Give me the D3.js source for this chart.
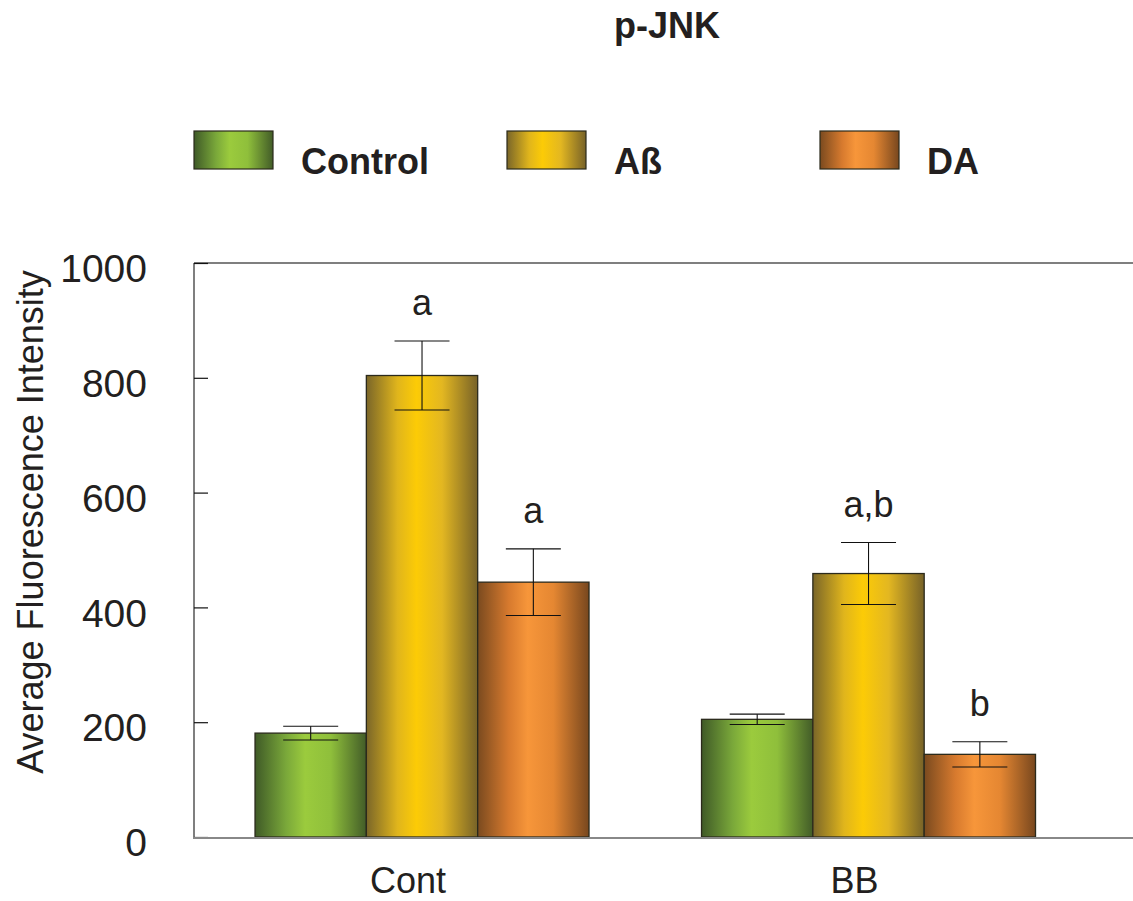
<!DOCTYPE html>
<html>
<head>
<meta charset="utf-8">
<script src="https://cdn.jsdelivr.net/npm/d3@7"></script>
<style>
  body { margin: 0; background: #fff; }
  text { font-family: "Liberation Sans", Arial, sans-serif; fill: #231f20; }
</style>
</head>
<body>
<script>
// values
const groups = ['Cont', 'BB'];
const series = ['Control', 'Aß', 'DA'];
const controlMeans = [181, 205];
const abMeans = [804, 459];
const daMeans = [444, 144];
const controlErr = [12, 9];
const abErr = [60, 54];
const daErr = [58, 22];
const controlSig = ['', ''];
const abSig = ['a', 'a,b'];
const daSig = ['a', 'b'];
const yTicks = [0, 200, 400, 600, 800, 1000];

const width = 1133, height = 901;

const rows = [];
groups.forEach((g, i) => {
  rows.push({ group: g, key: 'Control', value: controlMeans[i], err: controlErr[i], sig: controlSig[i] });
  rows.push({ group: g, key: 'Aß', value: abMeans[i], err: abErr[i], sig: abSig[i] });
  rows.push({ group: g, key: 'DA', value: daMeans[i], err: daErr[i], sig: daSig[i] });
});

const svg = d3.select('body').append('svg')
  .attr('width', width)
  .attr('height', height);

// horizontal shading for bars
const shades = {
  'Control': ['#3f5a27', '#7aa83a', '#9bcb3d', '#8fbf3b', '#425c28'],
  'Aß': ['#7a6629', '#e0b51c', '#fccb06', '#e3b721', '#776228'],
  'DA': ['#7a4a1f', '#d77a2e', '#f7963a', '#e58732', '#78471e']
};
const defs = svg.append('defs');
series.forEach((s, i) => {
  const grad = defs.append('linearGradient')
    .attr('id', 'grad' + i)
    .attr('x1', '0%').attr('x2', '100%')
    .attr('y1', '0%').attr('y2', '0%');
  const stops = [0, 0.28, 0.45, 0.68, 1];
  shades[s].forEach((c, j) => {
    grad.append('stop').attr('offset', stops[j]).attr('stop-color', c);
  });
});
const fillFor = k => 'url(#grad' + series.indexOf(k) + ')';

const y = d3.scaleLinear().domain([0, 1000]).range([837, 263]);

const x0 = d3.scaleBand()
  .domain(groups)
  .range([194, 1133])
  .paddingInner(0.252)
  .paddingOuter(0.1775)
  .align(0.385);

const x1 = d3.scaleBand()
  .domain(series)
  .range([0, x0.bandwidth()]);

// title
svg.append('text')
  .attr('x', 667)
  .attr('y', 38)
  .attr('text-anchor', 'middle')
  .style('font-size', '36px')
  .style('font-weight', 'bold')
  .text('p-JNK');

// legend
const legend = svg.append('g').attr('class', 'legend');
series.forEach((s, i) => {
  const lx = 194 + i * 313;
  legend.append('rect')
    .attr('x', lx)
    .attr('y', 131)
    .attr('width', 79)
    .attr('height', 38)
    .attr('fill', fillFor(s))
    .attr('stroke', '#2b2a1c')
    .attr('stroke-width', 1.2);
  legend.append('text')
    .attr('x', lx + 107)
    .attr('y', 174)
    .style('font-size', '36px')
    .style('font-weight', 'bold')
    .text(s);
});

// frame
svg.append('line')
  .attr('x1', 194).attr('x2', 1133)
  .attr('y1', 263).attr('y2', 263)
  .attr('stroke', '#555')
  .attr('stroke-width', 1.5);
svg.append('line')
  .attr('x1', 194).attr('x2', 194)
  .attr('y1', 263).attr('y2', 837)
  .attr('stroke', '#555')
  .attr('stroke-width', 1.5);

// y axis
const yAxis = svg.append('g')
  .attr('transform', 'translate(194,0)')
  .call(d3.axisLeft(y).tickValues(yTicks).tickSize(-14).tickPadding(47).tickFormat(d3.format('d')));
yAxis.select('.domain').remove();
yAxis.selectAll('.tick line')
  .attr('stroke', '#111')
  .attr('stroke-width', 1.2);
yAxis.selectAll('.tick text')
  .attr('dy', '0.48em')
  .style('font-size', '39px')
  .style('font-family', '"Liberation Sans", Arial, sans-serif')
  .attr('fill', '#231f20');

svg.append('text')
  .attr('transform', 'translate(43,522) rotate(-90)')
  .attr('text-anchor', 'middle')
  .style('font-size', '36px')
  .text('Average Fluorescence Intensity');

// bars
const barG = svg.append('g');
barG.selectAll('rect')
  .data(rows)
  .join('rect')
  .attr('x', d => x0(d.group) + x1(d.key))
  .attr('y', d => y(d.value))
  .attr('width', x1.bandwidth())
  .attr('height', d => y(0) - y(d.value))
  .attr('fill', d => fillFor(d.key))
  .attr('stroke', '#2b2a1c')
  .attr('stroke-width', 1.3);

// error bars
const capHalf = 27.5;
const errG = svg.append('g')
  .attr('stroke', '#111')
  .attr('stroke-width', 1.1);
rows.forEach(d => {
  const cx = x0(d.group) + x1(d.key) + x1.bandwidth() / 2;
  const hi = y(d.value + d.err), lo = y(d.value - d.err);
  errG.append('line').attr('x1', cx).attr('x2', cx).attr('y1', hi).attr('y2', lo);
  errG.append('line').attr('x1', cx - capHalf).attr('x2', cx + capHalf).attr('y1', hi).attr('y2', hi);
  errG.append('line').attr('x1', cx - capHalf).attr('x2', cx + capHalf).attr('y1', lo).attr('y2', lo);
});

// significance letters
svg.append('g').selectAll('text')
  .data(rows.filter(d => d.sig))
  .join('text')
  .attr('x', d => x0(d.group) + x1(d.key) + x1.bandwidth() / 2)
  .attr('y', d => y(d.value + d.err) - 26)
  .attr('text-anchor', 'middle')
  .style('font-size', '36px')
  .text(d => d.sig);

// bottom axis line and group labels
svg.append('line')
  .attr('x1', 193).attr('x2', 1133)
  .attr('y1', 838).attr('y2', 838)
  .attr('stroke', '#888')
  .attr('stroke-width', 2);

svg.append('g').selectAll('text')
  .data(groups)
  .join('text')
  .attr('x', d => x0(d) + x0.bandwidth() / 2 - 14)
  .attr('y', 893)
  .attr('text-anchor', 'middle')
  .style('font-size', '36px')
  .text(d => d);
</script>
</body>
</html>
